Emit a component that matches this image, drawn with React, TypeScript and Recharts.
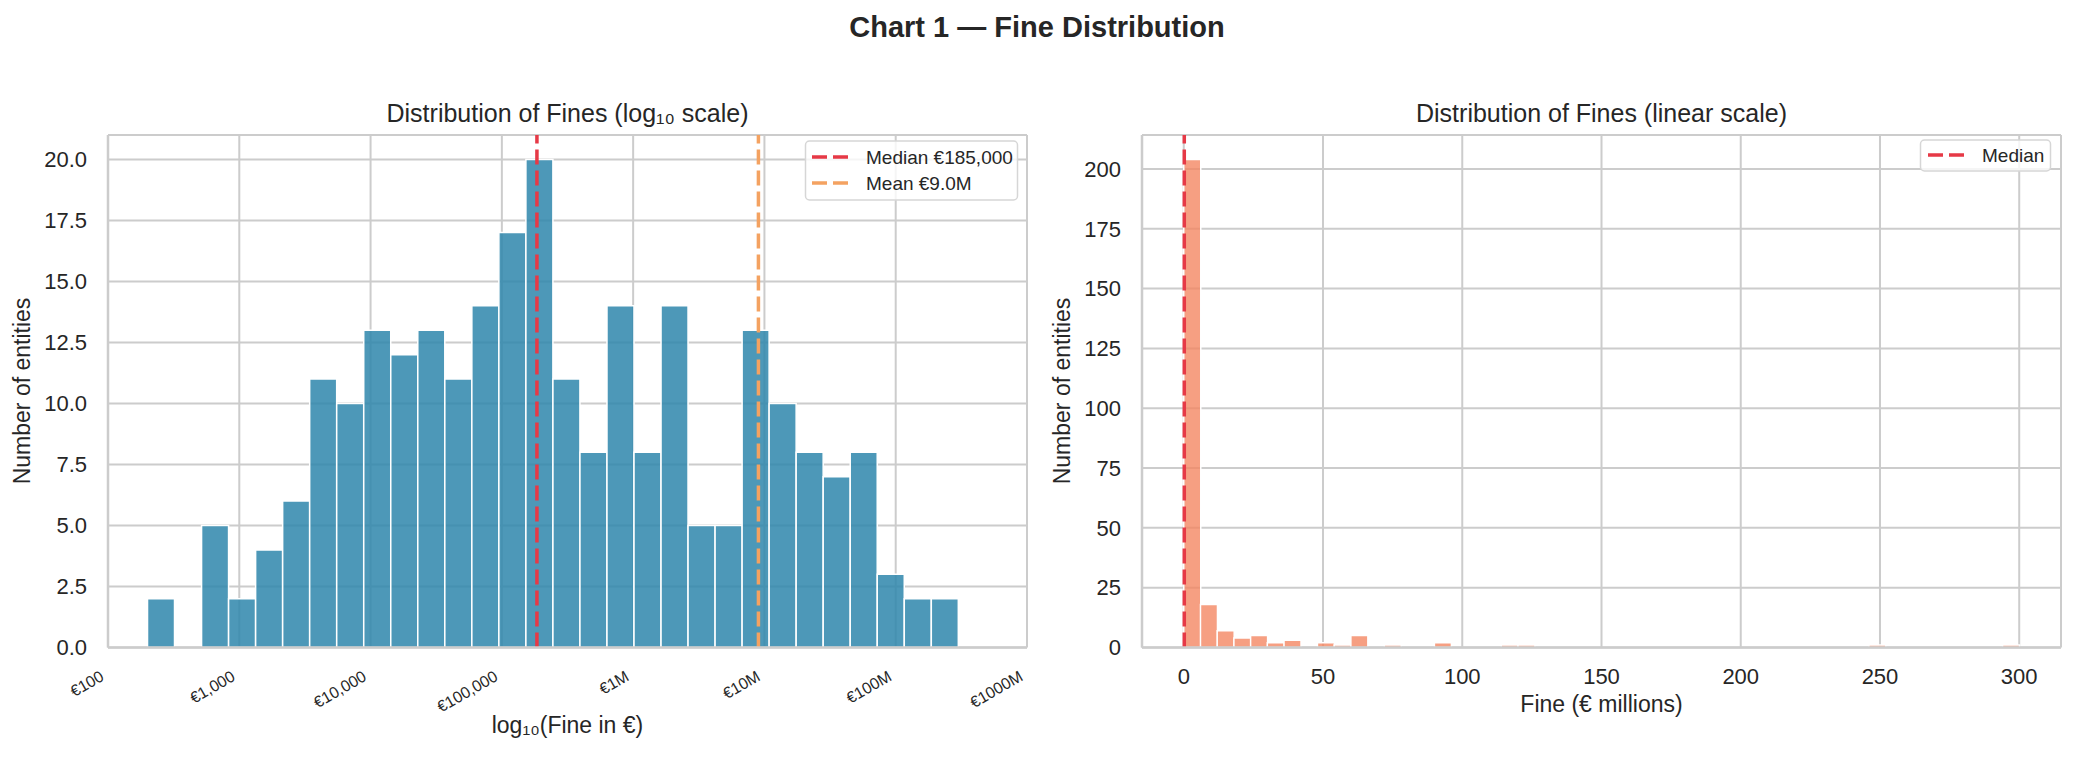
import React from 'react';
import { ComposedChart, Bar, XAxis, YAxis, CartesianGrid, ReferenceLine } from 'recharts';

const FONT = '"Liberation Sans", Arial, sans-serif';
const INK = '#262626';
const GRID = '#cccccc';
const BLUE = '#2E86AB';
const SALMON = '#F4845F';
const RED = '#E63946';
const ORANGE = '#F4A261';

// summary stats
const medianFine = 185000;
const meanFine = 9.0e6;

// left: log10 histogram, 30 bins between smallest and largest fine
const logMin = 2.301;
const logMax = 8.477;
const logCounts = [2, 0, 5, 2, 4, 6, 11, 10, 13, 12, 13, 11, 14, 17, 20, 11, 8, 14, 8, 14, 5, 5, 13, 10, 8, 7, 8, 3, 2, 2];
const logTicks = [2, 3, 4, 5, 6, 7, 8, 9];
const logTickLabels = ['€100', '€1,000', '€10,000', '€100,000', '€1M', '€10M', '€100M', '€1000M'];
const logYTicks = [0, 2.5, 5, 7.5, 10, 12.5, 15, 17.5, 20];

// right: linear histogram in € millions, 50 bins
const linMax = 300;
const linCounts = [
  204, 18, 7, 4, 5, 2, 3, 0, 2, 1,
  5, 0, 1, 0, 0, 2, 0, 0, 0, 1,
  1, 0, 0, 0, 0, 0, 0, 0, 0, 0,
  0, 0, 0, 0, 0, 0, 0, 0, 0, 0,
  0, 1, 0, 0, 0, 0, 0, 0, 0, 1,
];
const linTicks = [0, 50, 100, 150, 200, 250, 300];
const linYTicks = [0, 25, 50, 75, 100, 125, 150, 175, 200];

const logW = (logMax - logMin) / logCounts.length;
const logData = logCounts.map((count, i) => ({ x: logMin + (i + 0.5) * logW, count }));
const linW = linMax / linCounts.length;
const linData = linCounts.map((count, i) => ({ x: (i + 0.5) * linW, count }));

const tickStyle = { fill: INK, fontSize: 22, fontFamily: FONT };
const frame = { stroke: GRID, strokeWidth: 2.5 };

const LogTick = (props: any) => {
  const { x, y, payload } = props;
  const tx = x - 3;
  const ty = y + 32;
  return (
    <text x={tx} y={ty} transform={`rotate(-30, ${tx}, ${ty})`} textAnchor="end" fontSize={16} fill={INK} fontFamily={FONT}>
      {logTickLabels[logTicks.indexOf(payload.value)]}
    </text>
  );
};

function LegendRow({ x, y, color, label }: { x: number; y: number; color: string; label: string }) {
  return (
    <g>
      <line x1={x} x2={x + 38} y1={y} y2={y} stroke={color} strokeWidth={3.5} strokeDasharray="15 6" />
      <text x={x + 54} y={y + 7} fontSize={19} fill={INK} fontFamily={FONT}>{label}</text>
    </g>
  );
}

export default function App() {
  return (
    <div style={{ position: 'absolute', left: 0, top: 0, width: 2074, height: 759, background: '#fff' }}>
      <div style={{ position: 'absolute', left: 0, top: 0 }}>
        <ComposedChart width={1037} height={759} data={logData} barCategoryGap={0} barGap={0}
          margin={{ top: 135, right: 10, bottom: 81.5, left: 48 }}>
          <CartesianGrid stroke={GRID} strokeWidth={2} />
          <XAxis dataKey="x" type="number" domain={[2, 9]} allowDataOverflow ticks={logTicks} interval={0}
            height={30} tickSize={0} tickMargin={0} tickLine={false} axisLine={frame} tick={<LogTick />} />
          <XAxis xAxisId="top" orientation="top" type="number" domain={[2, 9]} height={0} tick={false} tickLine={false} axisLine={frame} />
          <YAxis type="number" domain={[0, 21]} ticks={logYTicks} interval={0} width={60} tickSize={0} tickMargin={21}
            tickLine={false} axisLine={frame} tick={tickStyle} tickFormatter={(v: number) => v.toFixed(1)} />
          <YAxis yAxisId="right" orientation="right" type="number" domain={[0, 21]} width={0} tick={false} tickLine={false} axisLine={frame} />
          <Bar dataKey="count" fill={BLUE} fillOpacity={0.85} stroke="#fff" strokeWidth={1.5} isAnimationActive={false} />
          <ReferenceLine x={Math.log10(medianFine)} stroke={RED} strokeWidth={3.5} strokeDasharray="15 6" />
          <ReferenceLine x={Math.log10(meanFine)} stroke={ORANGE} strokeWidth={3.5} strokeDasharray="15 6" />
        </ComposedChart>
      </div>
      <div style={{ position: 'absolute', left: 1037, top: 0 }}>
        <ComposedChart width={1037} height={759} data={linData} barCategoryGap={0} barGap={0}
          margin={{ top: 135, right: 13, bottom: 81.5, left: 45 }}>
          <CartesianGrid stroke={GRID} strokeWidth={2} />
          <XAxis dataKey="x" type="number" domain={[-15, 315]} allowDataOverflow ticks={linTicks} interval={0}
            height={30} tickSize={0} tickMargin={21} tickLine={false} axisLine={frame} tick={tickStyle} />
          <XAxis xAxisId="top" orientation="top" type="number" domain={[-15, 315]} height={0} tick={false} tickLine={false} axisLine={frame} />
          <YAxis type="number" domain={[0, 214.2]} allowDataOverflow ticks={linYTicks} interval={0} width={60} tickSize={0} tickMargin={21}
            tickLine={false} axisLine={frame} tick={tickStyle} />
          <YAxis yAxisId="right" orientation="right" type="number" domain={[0, 214.2]} width={0} tick={false} tickLine={false} axisLine={frame} />
          <Bar dataKey="count" fill={SALMON} fillOpacity={0.78} stroke="#fff" strokeWidth={1.5} isAnimationActive={false} />
          <ReferenceLine x={medianFine / 1e6} stroke={RED} strokeWidth={3.5} strokeDasharray="15 6" />
        </ComposedChart>
      </div>
      <svg width={2074} height={759} style={{ position: 'absolute', left: 0, top: 0, pointerEvents: 'none' }}>
        <text x={1037} y={37} textAnchor="middle" fontSize={29} fontWeight="bold" fill={INK} fontFamily={FONT}>
          Chart 1 — Fine Distribution
        </text>
        <text x={567.5} y={122} textAnchor="middle" fontSize={25} fill={INK} fontFamily={FONT}>
          Distribution of Fines (log₁₀ scale)
        </text>
        <text x={1601.5} y={122} textAnchor="middle" fontSize={25} fill={INK} fontFamily={FONT}>
          Distribution of Fines (linear scale)
        </text>
        <text x={567.5} y={733} textAnchor="middle" fontSize={23} fill={INK} fontFamily={FONT}>
          log₁₀(Fine in €)
        </text>
        <text x={1601.5} y={712} textAnchor="middle" fontSize={23} fill={INK} fontFamily={FONT}>
          Fine (€ millions)
        </text>
        <text transform="translate(30, 391) rotate(-90)" textAnchor="middle" fontSize={23} fill={INK} fontFamily={FONT}>
          Number of entities
        </text>
        <text transform="translate(1070, 391) rotate(-90)" textAnchor="middle" fontSize={23} fill={INK} fontFamily={FONT}>
          Number of entities
        </text>
        <rect x={805.5} y={141} width={212} height={59} rx={4} fill="#fff" fillOpacity={0.8} stroke="#d6d6d6" strokeWidth={1.5} />
        <LegendRow x={812} y={157} color={RED} label="Median €185,000" />
        <LegendRow x={812} y={183} color={ORANGE} label="Mean €9.0M" />
        <rect x={1920.5} y={140} width={130} height={31} rx={4} fill="#fff" fillOpacity={0.8} stroke="#d6d6d6" strokeWidth={1.5} />
        <LegendRow x={1928} y={155} color={RED} label="Median" />
      </svg>
    </div>
  );
}
